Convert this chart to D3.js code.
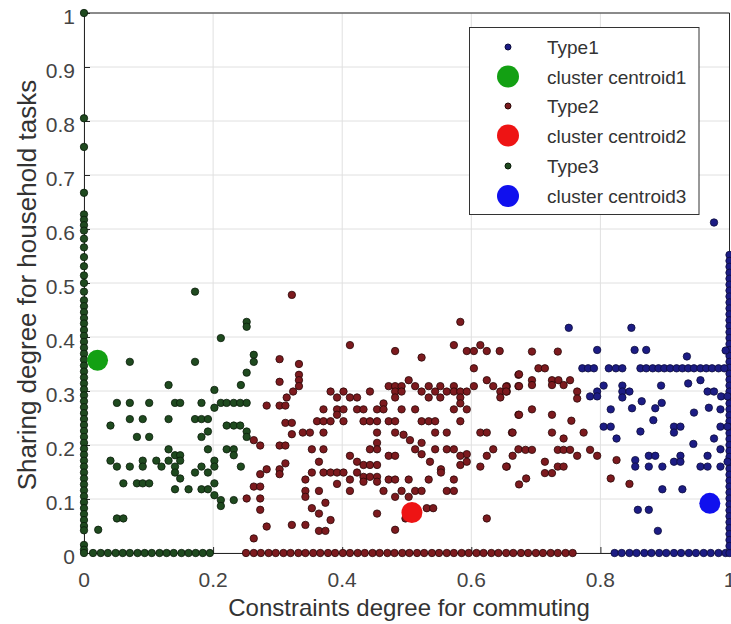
<!DOCTYPE html>
<html>
<head>
<meta charset="utf-8">
<script src="https://cdn.jsdelivr.net/npm/d3@7"></script>
<style>
  body { margin: 0; background: #fff; }
  text { font-family: "Liberation Sans", Arial, sans-serif; }
</style>
</head>
<body>
<div id="chart"></div>
<script>
// ---- data ----

// Type3 (dark green): column on x = 0, row on y = 0, and the scatter
var type3Column = [1.0, 0.805, 0.752, 0.667, 0.627, 0.617, 0.607, 0.597, 0.582, 0.566, 0.548, 0.531,
  0.514, 0.500, 0.484, 0.468, 0.457, 0.446, 0.435, 0.425, 0.413, 0.402, 0.391, 0.380, 0.369, 0.358,
  0.347, 0.336, 0.325, 0.314, 0.303, 0.292, 0.281, 0.270, 0.259, 0.248, 0.237, 0.226, 0.215, 0.204,
  0.193, 0.182, 0.171, 0.160, 0.149, 0.138, 0.127, 0.116, 0.105, 0.094, 0.083, 0.072, 0.061, 0.050,
  0.042, 0.015, 0.006, 0.0];
var type3Floor = [0.014, 0.026, 0.037, 0.049, 0.060, 0.071, 0.083, 0.094, 0.105, 0.117, 0.128,
  0.139, 0.151, 0.162, 0.173, 0.184, 0.195];
var type3Scatter = [
  [0.172, 0.484], [0.252, 0.428], [0.252, 0.419], [0.212, 0.398], [0.071, 0.354], [0.172, 0.354],
  [0.263, 0.367], [0.263, 0.354], [0.252, 0.334], [0.131, 0.311], [0.243, 0.311], [0.202, 0.302],
  [0.051, 0.278], [0.071, 0.278], [0.101, 0.278], [0.141, 0.278], [0.149, 0.278], [0.182, 0.278],
  [0.212, 0.278], [0.221, 0.278], [0.232, 0.278], [0.242, 0.278], [0.252, 0.278], [0.202, 0.269],
  [0.071, 0.248], [0.091, 0.248], [0.131, 0.248], [0.172, 0.248], [0.182, 0.248], [0.192, 0.248],
  [0.041, 0.236], [0.221, 0.236], [0.232, 0.236], [0.242, 0.236], [0.252, 0.225], [0.192, 0.225],
  [0.082, 0.215], [0.101, 0.215], [0.182, 0.215], [0.252, 0.215], [0.131, 0.192], [0.192, 0.192],
  [0.221, 0.192], [0.232, 0.192], [0.141, 0.181], [0.149, 0.181], [0.232, 0.181], [0.041, 0.171],
  [0.091, 0.171], [0.112, 0.171], [0.131, 0.171], [0.149, 0.171], [0.202, 0.171], [0.051, 0.160],
  [0.071, 0.160], [0.091, 0.160], [0.120, 0.160], [0.141, 0.160], [0.182, 0.160], [0.202, 0.160],
  [0.243, 0.160], [0.141, 0.149], [0.172, 0.149], [0.192, 0.149], [0.149, 0.138], [0.061, 0.129],
  [0.082, 0.129], [0.091, 0.129], [0.101, 0.129], [0.202, 0.129], [0.141, 0.118], [0.162, 0.118],
  [0.182, 0.118], [0.192, 0.118], [0.202, 0.107], [0.212, 0.098], [0.212, 0.087], [0.232, 0.098],
  [0.051, 0.064], [0.061, 0.064], [0.022, 0.043]
];

// Type2 (dark red): row on y = 0 and the scatter
var type2Floor = [0.251, 0.263, 0.274, 0.286, 0.297, 0.309, 0.320, 0.332, 0.343, 0.355, 0.366,
  0.378, 0.389, 0.401, 0.412, 0.424, 0.435, 0.447, 0.458, 0.470, 0.481, 0.493, 0.504, 0.516, 0.527,
  0.539, 0.550, 0.562, 0.573, 0.585, 0.596, 0.608, 0.619, 0.631, 0.642, 0.654, 0.665, 0.677, 0.688,
  0.700, 0.711, 0.723, 0.734, 0.746, 0.757];
var type2Scatter = [
  [0.322, 0.478], [0.583, 0.428], [0.412, 0.385], [0.573, 0.385], [0.614, 0.385], [0.482, 0.374],
  [0.593, 0.374], [0.604, 0.374], [0.624, 0.374], [0.644, 0.374], [0.523, 0.362], [0.303, 0.359],
  [0.333, 0.350], [0.604, 0.342], [0.333, 0.330], [0.673, 0.330], [0.333, 0.320], [0.503, 0.320],
  [0.624, 0.320], [0.303, 0.317], [0.333, 0.309], [0.472, 0.309], [0.482, 0.309], [0.492, 0.309],
  [0.513, 0.309], [0.534, 0.309], [0.552, 0.309], [0.573, 0.309], [0.604, 0.309], [0.634, 0.309],
  [0.655, 0.309], [0.673, 0.309], [0.324, 0.299], [0.382, 0.299], [0.402, 0.299], [0.443, 0.299],
  [0.482, 0.299], [0.492, 0.299], [0.523, 0.299], [0.544, 0.299], [0.562, 0.299], [0.573, 0.299],
  [0.583, 0.299], [0.593, 0.299], [0.645, 0.299], [0.655, 0.299], [0.314, 0.288], [0.392, 0.288],
  [0.412, 0.288], [0.423, 0.288], [0.482, 0.288], [0.534, 0.288], [0.552, 0.288], [0.583, 0.288],
  [0.645, 0.288], [0.464, 0.277], [0.583, 0.277], [0.283, 0.273], [0.303, 0.273], [0.312, 0.273],
  [0.371, 0.266], [0.392, 0.266], [0.402, 0.266], [0.423, 0.266], [0.433, 0.266], [0.454, 0.266],
  [0.464, 0.266], [0.492, 0.266], [0.513, 0.266], [0.573, 0.266], [0.593, 0.266], [0.392, 0.256],
  [0.673, 0.256], [0.361, 0.244], [0.371, 0.244], [0.382, 0.244], [0.402, 0.244], [0.433, 0.244],
  [0.443, 0.244], [0.454, 0.244], [0.472, 0.244], [0.482, 0.244], [0.523, 0.244], [0.534, 0.244],
  [0.544, 0.244], [0.583, 0.244], [0.312, 0.241], [0.322, 0.241], [0.339, 0.223], [0.350, 0.223],
  [0.371, 0.223], [0.454, 0.223], [0.482, 0.223], [0.544, 0.223], [0.562, 0.223], [0.614, 0.223],
  [0.624, 0.223], [0.663, 0.223], [0.322, 0.220], [0.495, 0.219], [0.263, 0.209], [0.505, 0.209],
  [0.523, 0.204], [0.454, 0.204], [0.273, 0.199], [0.303, 0.199], [0.312, 0.199], [0.353, 0.192],
  [0.371, 0.192], [0.443, 0.192], [0.454, 0.192], [0.513, 0.192], [0.544, 0.192], [0.562, 0.192],
  [0.573, 0.192], [0.634, 0.192], [0.673, 0.192], [0.523, 0.183], [0.593, 0.183], [0.412, 0.180],
  [0.472, 0.180], [0.482, 0.180], [0.583, 0.180], [0.624, 0.180], [0.364, 0.169], [0.423, 0.169],
  [0.536, 0.169], [0.593, 0.169], [0.312, 0.166], [0.433, 0.163], [0.443, 0.163], [0.454, 0.163],
  [0.583, 0.163], [0.614, 0.160], [0.655, 0.160], [0.283, 0.155], [0.303, 0.155], [0.553, 0.155],
  [0.353, 0.149], [0.371, 0.149], [0.382, 0.149], [0.392, 0.149], [0.402, 0.149], [0.423, 0.149],
  [0.553, 0.149], [0.273, 0.146], [0.303, 0.146], [0.433, 0.141], [0.443, 0.141], [0.454, 0.141],
  [0.343, 0.136], [0.412, 0.136], [0.472, 0.136], [0.482, 0.136], [0.503, 0.136], [0.534, 0.136],
  [0.573, 0.136], [0.433, 0.132], [0.454, 0.132], [0.392, 0.128], [0.263, 0.123], [0.273, 0.123],
  [0.343, 0.115], [0.364, 0.115], [0.412, 0.115], [0.464, 0.115], [0.492, 0.115], [0.513, 0.115],
  [0.523, 0.115], [0.562, 0.115], [0.573, 0.115], [0.343, 0.104], [0.482, 0.104], [0.503, 0.104],
  [0.252, 0.101], [0.273, 0.101], [0.374, 0.093], [0.353, 0.083], [0.531, 0.083], [0.541, 0.083],
  [0.273, 0.080], [0.364, 0.073], [0.454, 0.073], [0.498, 0.064], [0.624, 0.064], [0.382, 0.061],
  [0.322, 0.052], [0.343, 0.052], [0.283, 0.049], [0.364, 0.041], [0.374, 0.041], [0.482, 0.043],
  [0.263, 0.027],
  [0.694, 0.373], [0.734, 0.373], [0.704, 0.342], [0.714, 0.342], [0.674, 0.331], [0.694, 0.320],
  [0.694, 0.311], [0.725, 0.320], [0.735, 0.320], [0.725, 0.311], [0.743, 0.311], [0.753, 0.320],
  [0.654, 0.308], [0.654, 0.299], [0.674, 0.309], [0.764, 0.299], [0.764, 0.286], [0.694, 0.266],
  [0.674, 0.256], [0.725, 0.256], [0.755, 0.245], [0.664, 0.223], [0.725, 0.223], [0.743, 0.212],
  [0.774, 0.223], [0.684, 0.191], [0.694, 0.191], [0.734, 0.191], [0.743, 0.191], [0.753, 0.191],
  [0.764, 0.180], [0.784, 0.191], [0.795, 0.180], [0.664, 0.180], [0.714, 0.169], [0.654, 0.160],
  [0.714, 0.148], [0.725, 0.148], [0.734, 0.160], [0.743, 0.160], [0.685, 0.138], [0.674, 0.127],
  [0.816, 0.138], [0.825, 0.172], [0.845, 0.128]
];

// Type1 (navy): row on y = 0, column on x = 1, the row at y = 0.342 and the scatter
var type1Floor = [0.822, 0.833, 0.845, 0.856, 0.868, 0.879, 0.891, 0.902, 0.914, 0.925, 0.937,
  0.948, 0.960, 0.971, 0.983, 0.994, 1.0];
var type1Column = [0.552, 0.541, 0.530, 0.519, 0.508, 0.497, 0.486, 0.475, 0.464, 0.453, 0.442,
  0.431, 0.420, 0.409, 0.398, 0.387, 0.376, 0.365, 0.354, 0.343, 0.332, 0.321, 0.310, 0.299, 0.288,
  0.277, 0.266, 0.255, 0.244, 0.233, 0.222, 0.211, 0.200, 0.189, 0.178, 0.167, 0.156, 0.145, 0.134,
  0.123, 0.112, 0.101, 0.090, 0.079, 0.068, 0.057, 0.046, 0.035, 0.024, 0.013];
var type1Row = [0.772, 0.781, 0.790, 0.813, 0.824, 0.834, 0.862, 0.871, 0.881, 0.890, 0.899, 0.908,
  0.918, 0.927, 0.936, 0.945, 0.955, 0.964, 0.973, 0.983, 0.992];
var type1Scatter = [
  [0.976, 0.612], [0.751, 0.417], [0.848, 0.417], [0.795, 0.376], [0.853, 0.376], [0.871, 0.376],
  [0.934, 0.364], [0.994, 0.375], [0.805, 0.310], [0.795, 0.299], [0.784, 0.290], [0.795, 0.290],
  [0.834, 0.310], [0.834, 0.299], [0.845, 0.299], [0.834, 0.288], [0.894, 0.310], [0.936, 0.314],
  [0.955, 0.320], [0.966, 0.299], [0.976, 0.299], [0.987, 0.290], [0.997, 0.290], [0.864, 0.281],
  [0.895, 0.278], [0.816, 0.266], [0.849, 0.268], [0.885, 0.268], [0.945, 0.260], [0.968, 0.269],
  [0.986, 0.266], [0.882, 0.246], [0.805, 0.234], [0.816, 0.234], [0.825, 0.212], [0.862, 0.225],
  [0.914, 0.234], [0.924, 0.234], [0.914, 0.223], [0.976, 0.212], [0.986, 0.234], [0.997, 0.234],
  [0.944, 0.202], [0.986, 0.192], [0.997, 0.169], [0.854, 0.172], [0.854, 0.160], [0.875, 0.180],
  [0.885, 0.180], [0.875, 0.160], [0.896, 0.160], [0.914, 0.169], [0.924, 0.180], [0.924, 0.169],
  [0.955, 0.160], [0.966, 0.160], [0.966, 0.180], [0.986, 0.160], [0.896, 0.118], [0.927, 0.118],
  [0.858, 0.080], [0.875, 0.080], [0.889, 0.041]
];

var centroids = [[0.021, 0.357], [0.508, 0.075], [0.9695, 0.092]];

var legendLabels = ["Type1", "cluster centroid1", "Type2", "cluster centroid2", "Type3", "cluster centroid3"];
var xTickValues = [0, 0.2, 0.4, 0.6, 0.8, 1];
var xTickLabels = ["0", "0.2", "0.4", "0.6", "0.8", "1"];
var yTickValues = [0, 0.1, 0.2, 0.3, 0.4, 0.5, 0.6, 0.7, 0.8, 0.9, 1];
var yTickLabels = ["0", "0.1", "0.2", "0.3", "0.4", "0.5", "0.6", "0.7", "0.8", "0.9", "1"];

// ---- drawing ----
var width = 731,
    height = 624;

var svg = d3.select("#chart").append("svg")
    .attr("width", width)
    .attr("height", height);

var x = d3.scaleLinear().domain([0, 1]).range([84, 729.5]);
var y = d3.scaleLinear().domain([0, 1]).range([553, 13]);

// grid
svg.append("g").selectAll("line.gy")
    .data(yTickValues).enter().append("line")
    .attr("x1", x(0)).attr("x2", x(1))
    .attr("y1", function(d) { return y(d); })
    .attr("y2", function(d) { return y(d); })
    .attr("stroke", "#e0e0e0");
svg.append("g").selectAll("line.gx")
    .data(xTickValues).enter().append("line")
    .attr("y1", y(0)).attr("y2", y(1))
    .attr("x1", function(d) { return x(d); })
    .attr("x2", function(d) { return x(d); })
    .attr("stroke", "#e0e0e0");

// axes (inward ticks, like matlab)
var xAxis = svg.append("g")
    .attr("transform", "translate(0," + y(0) + ")")
    .call(d3.axisTop(x).tickValues(xTickValues).tickSize(6).tickFormat(""));
var yAxis = svg.append("g")
    .attr("transform", "translate(" + x(0) + ",0)")
    .call(d3.axisRight(y).tickValues(yTickValues).tickSize(6).tickFormat(""));
[xAxis, yAxis].forEach(function(g) {
    g.selectAll("path, line").attr("stroke", "#262626");
});
// top and right box lines
svg.append("line")
    .attr("x1", x(0)).attr("x2", x(1))
    .attr("y1", y(1)).attr("y2", y(1))
    .attr("stroke", "#262626");
svg.append("line")
    .attr("x1", x(1)).attr("x2", x(1))
    .attr("y1", y(1)).attr("y2", y(0))
    .attr("stroke", "#262626");

// tick labels
svg.append("g").selectAll("text")
    .data(xTickValues).enter().append("text")
    .attr("x", function(d) { return x(d); })
    .attr("y", 587)
    .attr("text-anchor", "middle")
    .attr("font-size", 21)
    .attr("fill", "#444")
    .text(function(d, i) { return xTickLabels[i]; });
svg.append("g").selectAll("text")
    .data(yTickValues).enter().append("text")
    .attr("x", 75)
    .attr("y", function(d) { return y(d) + 11; })
    .attr("text-anchor", "end")
    .attr("font-size", 21)
    .attr("fill", "#444")
    .text(function(d, i) { return yTickLabels[i]; });

// axis labels
svg.append("text")
    .attr("x", 409).attr("y", 616)
    .attr("text-anchor", "middle")
    .attr("font-size", 24)
    .attr("fill", "#333")
    .text("Constraints degree for commuting");
svg.append("text")
    .attr("transform", "translate(36,285) rotate(-90)")
    .attr("text-anchor", "middle")
    .attr("font-size", 26)
    .attr("fill", "#333")
    .text("Sharing degree for household tasks");

// points
var type3 = type3Column.map(function(v) { return [0, v]; })
    .concat(type3Floor.map(function(v) { return [v, 0]; }))
    .concat(type3Scatter);
var type2 = type2Floor.map(function(v) { return [v, 0]; }).concat(type2Scatter);
var type1 = type1Floor.map(function(v) { return [v, 0]; })
    .concat(type1Column.map(function(v) { return [1, v]; }))
    .concat(type1Row.map(function(v) { return [v, 0.342]; }))
    .concat(type1Scatter);

var series = [
    { pts: type1, fill: "#1c1c84", stroke: "#0c0c3c" },
    { pts: type2, fill: "#7c1a1e", stroke: "#2a0808" },
    { pts: type3, fill: "#1f4a1f", stroke: "#0a1c0a" }
];
series.forEach(function(s) {
    svg.append("g").selectAll("circle")
        .data(s.pts).enter().append("circle")
        .attr("cx", function(d) { return x(d[0]); })
        .attr("cy", function(d) { return y(d[1]); })
        .attr("r", 3.7)
        .attr("fill", s.fill)
        .attr("stroke", s.stroke)
        .attr("stroke-width", 0.8);
});

var centroidColors = ["#13a013", "#ee1414", "#1010ee"];
svg.append("g").selectAll("circle")
    .data(centroids).enter().append("circle")
    .attr("cx", function(d) { return x(d[0]); })
    .attr("cy", function(d) { return y(d[1]); })
    .attr("r", 10.5)
    .attr("fill", function(d, i) { return centroidColors[i]; });

// legend
var legend = svg.append("g");
legend.append("rect")
    .attr("x", 469.5).attr("y", 27.5)
    .attr("width", 229.5).attr("height", 187)
    .attr("fill", "#fff")
    .attr("stroke", "#333");
var legendRows = [47, 76.5, 106, 135.5, 166, 196];
var legendMarks = [
    { r: 3, fill: "#1c1c84", stroke: "#0c0c3c" },
    { r: 11, fill: "#13a013", stroke: "none" },
    { r: 3, fill: "#7c1a1e", stroke: "#2a0808" },
    { r: 11, fill: "#ee1414", stroke: "none" },
    { r: 3, fill: "#1f4a1f", stroke: "#0a1c0a" },
    { r: 11, fill: "#1010ee", stroke: "none" }
];
legendLabels.forEach(function(label, i) {
    legend.append("circle")
        .attr("cx", 508).attr("cy", legendRows[i])
        .attr("r", legendMarks[i].r)
        .attr("fill", legendMarks[i].fill)
        .attr("stroke", legendMarks[i].stroke);
    legend.append("text")
        .attr("x", 547).attr("y", legendRows[i] + 7)
        .attr("font-size", 19)
        .attr("fill", "#333")
        .text(label);
});
</script>
</body>
</html>
